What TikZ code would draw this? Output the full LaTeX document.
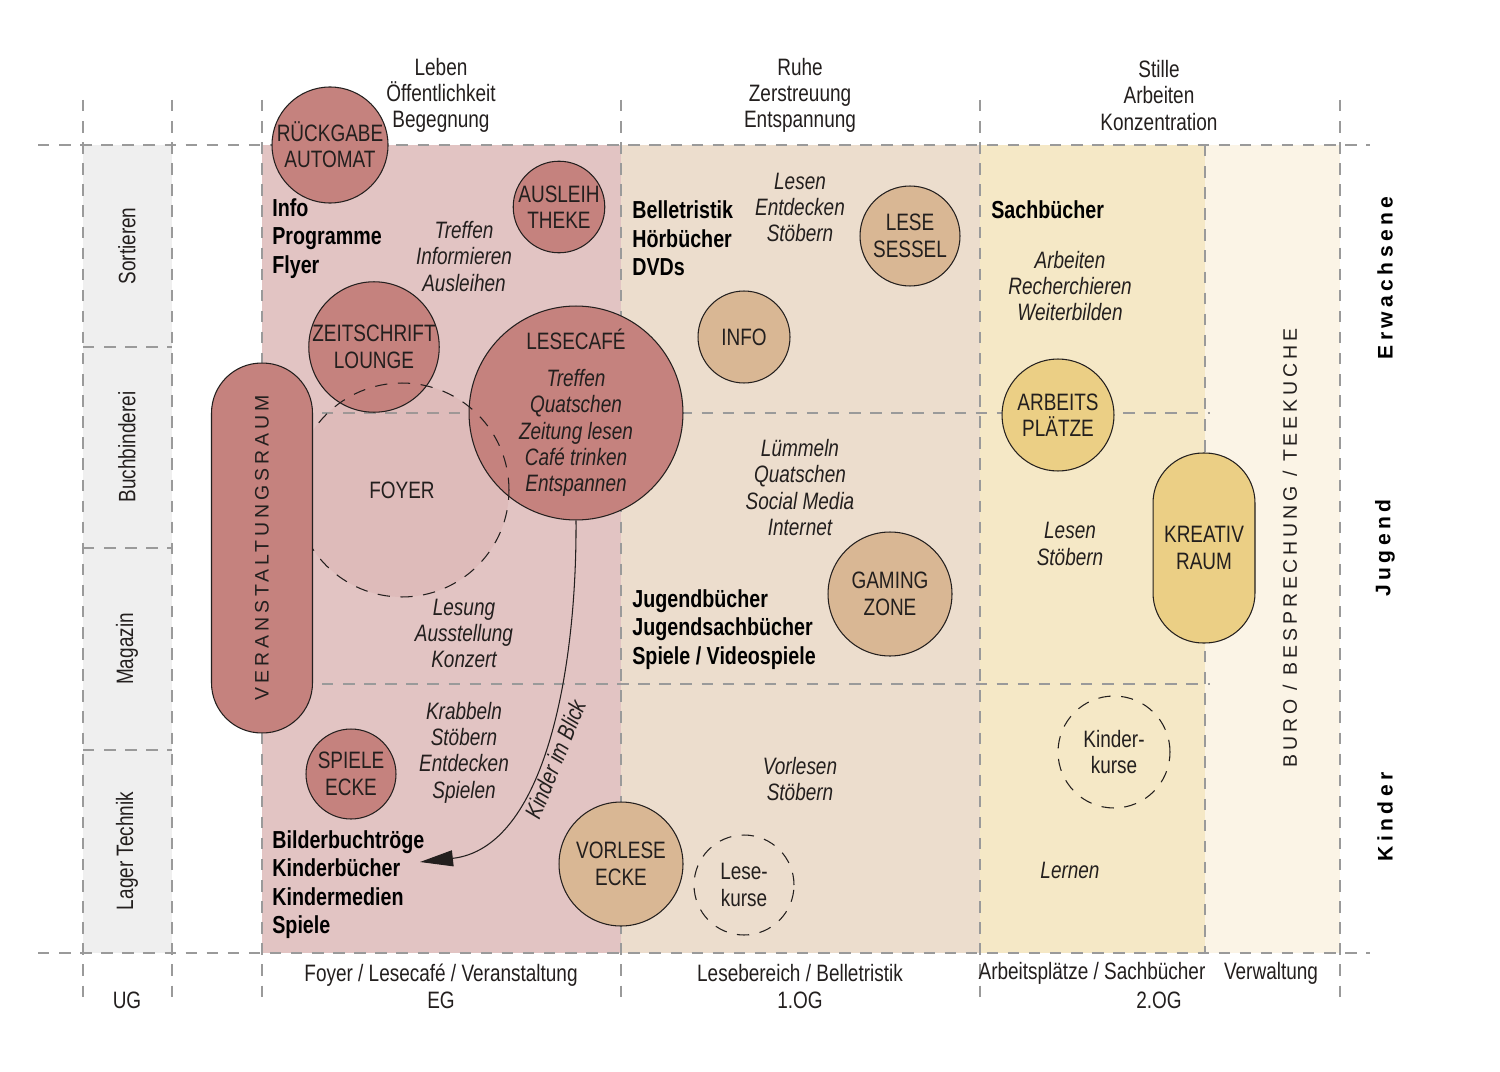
\documentclass[tikz,border=0pt]{standalone}
\usepackage{fontspec}
\setmainfont{Liberation Sans}[FakeStretch=0.8]
\newfontfamily\spacedfont{Liberation Sans}[LetterSpace=20]
\newfontfamily\agefont{Liberation Sans}[LetterSpace=21]
\usetikzlibrary{arrows.meta}

\definecolor{ugbg}{HTML}{EFEFEF}
\definecolor{egbg}{HTML}{E2C4C3}
\definecolor{ogbg}{HTML}{ECDDCD}
\definecolor{ozbg}{HTML}{F5E8C6}
\definecolor{verwbg}{HTML}{FBF4E6}
\definecolor{rosefill}{HTML}{C5827E}
\definecolor{tanfill}{HTML}{D9B794}
\definecolor{yelfill}{HTML}{EBCF85}
\definecolor{gridgrey}{HTML}{9A9A9A}
\definecolor{ink}{HTML}{231F1E}

\newcommand{\planfont}{\fontsize{13.5}{15}\selectfont}
\newcommand{\planbold}{\fontsize{14}{16.2}\selectfont\bfseries}
\newcommand{\planit}{\fontsize{13.5}{15}\selectfont\itshape}

\tikzset{
	gridline/.style={draw=gridgrey, line width=0.6pt, dash pattern=on 6.5pt off 5.5pt},
	room/.style={circle, draw=ink, line width=0.6pt, inner sep=0pt, align=center, font=\planfont, text=ink},
	roseroom/.style={room, fill=rosefill},
	tanroom/.style={room, fill=tanfill},
	yelroom/.style={room, fill=yelfill},
	course/.style={room, dash pattern=on 7pt off 6pt},
	activity/.style={align=center, inner sep=0pt, font=\planit, text=ink},
	media/.style={align=left, anchor=west, inner sep=0pt, font=\planbold, text=black},
	plain/.style={align=center, inner sep=0pt, font=\planfont, text=ink},
	agegroup/.style={rotate=90, inner sep=0pt, font=\fontsize{12}{14}\agefont\bfseries, text=black}
}

\begin{document}
\begin{tikzpicture}[x=0.02cm, y=-0.02cm]
	\def \rowA {413}
	\def \rowB {684}

	\path[fill=white, use as bounding box] (0,0) rectangle (1500,1071);

	% floors
	\fill[ugbg]   (83,145)   rectangle (172,953);
	\fill[egbg]   (262,145)  rectangle (621,953);
	\fill[ogbg]   (621,145)  rectangle (980,953);
	\fill[ozbg]   (980,145)  rectangle (1205,953);
	\fill[verwbg] (1205,145) rectangle (1340,953);

	\foreach \x in {83,172,262,621,980,1340}
		\draw[gridline] (\x,100) -- (\x,1000);
	\draw[gridline] (1205,145) -- (1205,953);
	\draw[gridline] (38,145) -- (1370,145);
	\draw[gridline] (38,953) -- (1370,953);
	\foreach \y in {347,548,750}
		\draw[gridline] (83,\y) -- (172,\y);
	\foreach \y in {\rowA,\rowB}
		\draw[gridline] (322,\y) -- (1210,\y);

	% headings
	\node[plain] (leben)  at (441,95.5)  {Leben\\Öffentlichkeit\\Begegnung};
	\node[plain] (ruhe)   at (800,95.5)  {Ruhe\\Zerstreuung\\Entspannung};
	\node[plain] (stille) at (1159,95.5) {Stille\\Arbeiten\\Konzentration};

	\node[plain] (egname)   at (441,986.5) {Foyer / Lesecafé / Veranstaltung\\EG};
	\node[plain] (ogname)   at (800,986.5) {Lesebereich / Belletristik\\1.OG};
	\node[plain] (ozname)   at (1092,973)  {Arbeitsplätze / Sachbücher};
	\node[plain] (ozfloor)  at (1159,1000) {2.OG};
	\node[plain] (verwname) at (1271,973)  {Verwaltung};
	\node[plain] (ugname)   at (127,1000)  {UG};

	\node[plain, rotate=90] (sortieren)    at (127,246) {Sortieren};
	\node[plain, rotate=90] (buchbinderei) at (127,447) {Buchbinderei};
	\node[plain, rotate=90] (magazin)      at (127,649) {Magazin};
	\node[plain, rotate=90] (lager)        at (127,851) {Lager Technik};

	\node[agegroup] (erwachsene) at (1385,278) {Erwachsene};
	\node[agegroup] (jugend)     at (1385,548) {Jugend};
	\node[agegroup] (kinder)     at (1385,817) {Kinder};

	\node[rotate=90, inner sep=0pt, text=ink, font=\fontsize{11.1}{13}\spacedfont] (buero)
		at (1290,548) {BURO / BESPRECHUNG / TEEKUCHE};

	% EG
	\node[circle, fill=rosefill, fill opacity=0.12, text opacity=1, minimum size=4.28cm,
		inner sep=0pt, font=\planfont, text=ink] (foyer) at (402,490) {FOYER};
	\node[roseroom, minimum size=2.08cm] (rueckgabe)   at (330,145) {RÜCKGABE\\AUTOMAT};
	\node[roseroom, minimum size=1.8cm]  (ausleih)     at (559,207) {AUSLEIH\\THEKE};
	\node[roseroom, minimum size=2.48cm] (zeitschrift) at (374,347) {ZEITSCHRIFT\\LOUNGE};
	\node[roseroom, minimum size=4.28cm] (lesecafe)    at (576,413)
		{LESECAFÉ\\[6pt]\textit{Treffen}\\\textit{Quatschen}\\\textit{Zeitung lesen}\\\textit{Café trinken}\\\textit{Entspannen}};
	\draw[ink, line width=0.6pt, dash pattern=on 7pt off 6pt] (foyer.center) circle[radius=2.14cm];
	\node[roseroom, minimum size=1.8cm]  (spiele)      at (351,774) {SPIELE\\ECKE};
	\node[draw=ink, fill=rosefill, line width=0.6pt, rounded corners=1cm, rotate=90,
		minimum width=7.4cm, minimum height=2.02cm, text=ink, font=\fontsize{11.1}{13}\spacedfont]
		(veranstaltung) at (262,548) {VERANSTALTUNGSRAUM};

	\node[media]    (infomedia)   at (272,238.5) {Info\\Programme\\Flyer};
	\node[activity] (treffenact)  at (464,256.5) {Treffen\\Informieren\\Ausleihen};
	\node[activity] (lesungact)   at (464,633.5) {Lesung\\Ausstellung\\Konzert};
	\node[activity] (krabbelnact) at (464,752.5) {Krabbeln\\Stöbern\\Entdecken\\Spielen};
	\node[media]    (kindermedia) at (272,884.5) {Bilderbuchtröge\\Kinderbücher\\Kindermedien\\Spiele};

	\coordinate (blickend) at (420,862);
	\draw[ink, line width=0.6pt, {Triangle[length=0.66cm, width=0.32cm]}-]
		(blickend) .. controls (545,848) and (577,670) .. (lesecafe.south)
		node[pos=0.47, sloped, below=3.5pt, inner sep=0pt, font=\planit, text=ink] (blicklabel) {Kinder im Blick};

	% 1.OG
	\node[tanroom, minimum size=1.84cm] (info)       at (744,337) {INFO};
	\node[tanroom, minimum size=2cm]    (lesesessel) at (910,236) {LESE\\SESSEL};
	\node[tanroom, minimum size=2.48cm] (gaming)     at (890,594) {GAMING\\ZONE};
	\node[tanroom, minimum size=2.48cm] (vorlese)    at (621,864) {VORLESE\\ECKE};
	\node[course, minimum size=2cm]     (lesekurse)  at (744,885) {Lese-\\kurse};

	\node[media]    (bellmedia)   at (632,238.5) {Belletristik\\Hörbücher\\DVDs};
	\node[activity] (lesenact)    at (800,207.5) {Lesen\\Entdecken\\Stöbern};
	\node[activity] (luemmelnact) at (800,487.5) {Lümmeln\\Quatschen\\Social Media\\Internet};
	\node[media]    (jugendmedia) at (632,629.5) {Jugendbücher\\Jugendsachbücher\\Spiele / Videospiele};
	\node[activity] (vorlesenact) at (800,779)   {Vorlesen\\Stöbern};

	% 2.OG
	\node[yelroom, minimum size=2.24cm] (arbeits)     at (1058,415) {ARBEITS\\PLÄTZE};
	\node[draw=ink, fill=yelfill, line width=0.6pt, rounded corners=1cm, minimum width=2.04cm,
		minimum height=3.8cm, align=center, text=ink, font=\planfont] (kreativ) at (1204,548) {KREATIV\\RAUM};
	\node[course, minimum size=2.24cm]  (kinderkurse) at (1114,752) {Kinder-\\kurse};

	\node[media]    (sachmedia)   at (991,210)  {Sachbücher};
	\node[activity] (arbeitenact) at (1070,286) {Arbeiten\\Recherchieren\\Weiterbilden};
	\node[activity] (stoebernact) at (1070,544) {Lesen\\Stöbern};
	\node[activity] (lernenact)   at (1070,870) {Lernen};
\end{tikzpicture}
\end{document}
